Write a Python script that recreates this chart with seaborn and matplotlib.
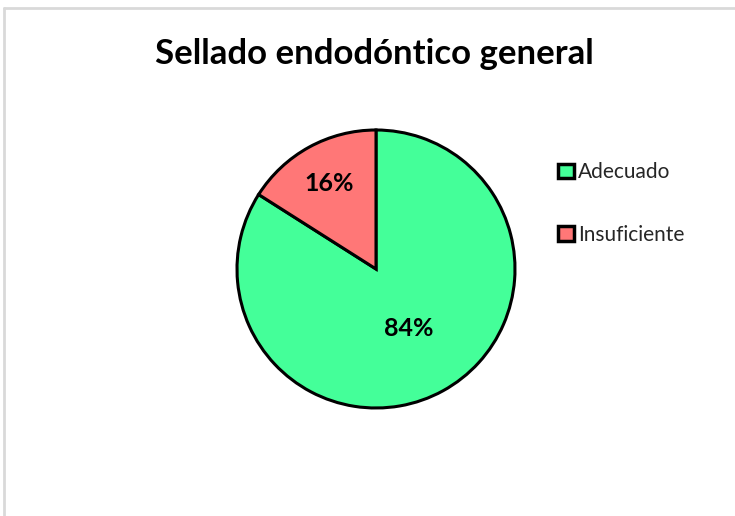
import matplotlib
matplotlib.use("Agg")
import matplotlib.pyplot as plt
import seaborn as sns
import numpy as np
from matplotlib.patches import Patch
from matplotlib.lines import Line2D

categories = ["Adecuado", "Insuficiente"]
values = [84, 16]
colors = ["#44FF99", "#FF7777"]
pct_labels = ["84%", "16%"]
label_radius = [0.49, 0.70]
title = "Sellado endodóntico general"

sns.set_theme(style="white")
plt.rcParams["font.family"] = ["Lato", "DejaVu Sans"]

W, H = 735, 516
fig = plt.figure(figsize=(W / 100, H / 100), dpi=100)
fig.patch.set_facecolor("white")

# light grey chart-area frame (left and top edges)
fig.add_artist(Line2D([4 / W, 4 / W], [0, 1 - 8 / H], color="#d9d9d9", lw=2,
                      transform=fig.transFigure))
fig.add_artist(Line2D([4 / W, 1], [1 - 8 / H, 1 - 8 / H], color="#d9d9d9", lw=2,
                      transform=fig.transFigure))

cx, cy, r = 376, 269, 139
ax = fig.add_axes([(cx - r) / W, (H - cy - r) / H, 2 * r / W, 2 * r / H])
wedges, _ = ax.pie(values, colors=colors, startangle=90, counterclock=False,
                   wedgeprops=dict(edgecolor="black", linewidth=2.2))
for w in wedges:
    w.set_clip_on(False)
ax.set_xlim(-1, 1)
ax.set_ylim(-1, 1)
ax.set_aspect("equal")
ax.axis("off")

for w, lab, rad in zip(wedges, pct_labels, label_radius):
    ang = np.deg2rad((w.theta1 + w.theta2) / 2)
    ax.text(rad * np.cos(ang), rad * np.sin(ang), lab, ha="center", va="center",
            fontsize=18, fontweight="bold", color="black")

fig.text(374 / W, 1 - 54 / H, title, ha="center", va="center",
         fontsize=25, fontweight="bold", color="black")

handles = [Patch(facecolor=c, edgecolor="black", linewidth=2.5) for c in colors]
fig.legend(handles, categories, loc="upper left",
           bbox_to_anchor=(550 / W, 1 - 154 / H), frameon=False,
           fontsize=15, handlelength=0.75, handleheight=0.7, handletextpad=0.2,
           labelspacing=2.05, borderaxespad=0)

fig.savefig("out.png", dpi=100, facecolor="white")
